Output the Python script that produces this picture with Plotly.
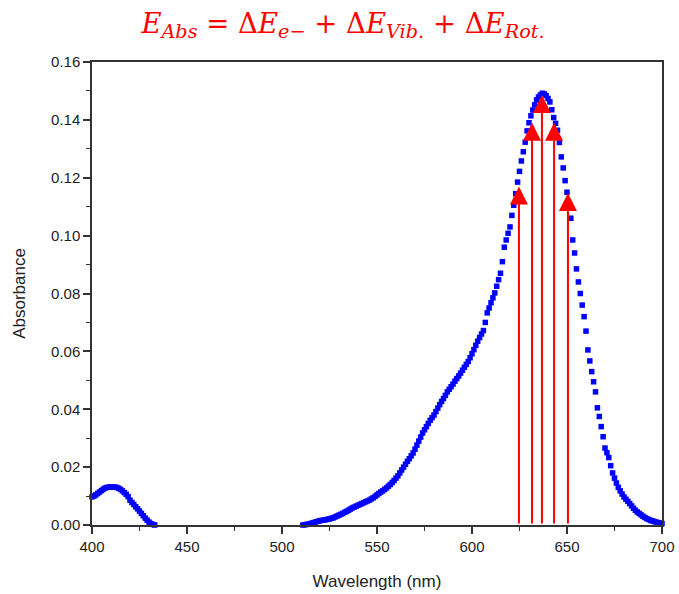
import plotly.graph_objects as go

# ---- data ----
wl_uv = list(range(400, 434))
abs_uv = [0.0097, 0.0100, 0.0104, 0.0109, 0.0114, 0.0119, 0.0124, 0.0128, 0.0130, 0.0131,
          0.0131, 0.0131, 0.0131, 0.0130, 0.0127, 0.0123, 0.0118, 0.0112, 0.0106, 0.0098,
          0.0086, 0.0078, 0.0071, 0.0063, 0.0056, 0.0048, 0.0040, 0.0032, 0.0024, 0.0017,
          0.0010, 0.0005, 0.0002, 0.0000]

wl_vis = list(range(511, 701))
abs_vis = [
    0.0000, 0.0001, 0.0002, 0.0003, 0.0005, 0.0007, 0.0009, 0.0011, 0.0013, 0.0015,  # 511-520
    0.0016, 0.0017, 0.0018, 0.0020, 0.0021, 0.0023, 0.0025, 0.0028, 0.0031, 0.0034,  # 521-530
    0.0037, 0.0040, 0.0044, 0.0047, 0.0051, 0.0055, 0.0059, 0.0062, 0.0065, 0.0068,  # 531-540
    0.0071, 0.0074, 0.0077, 0.0080, 0.0083, 0.0086, 0.0090, 0.0094, 0.0099, 0.0104,  # 541-550
    0.0109, 0.0114, 0.0118, 0.0123, 0.0128, 0.0134, 0.0140, 0.0147, 0.0154, 0.0162,  # 551-560
    0.0170, 0.0180, 0.0190, 0.0200, 0.0210, 0.0220, 0.0229, 0.0239, 0.0249, 0.0262,  # 561-570
    0.0276, 0.0290, 0.0304, 0.0318, 0.0329, 0.0340, 0.0351, 0.0362, 0.0371, 0.0380,  # 571-580
    0.0392, 0.0404, 0.0416, 0.0427, 0.0437, 0.0448, 0.0460, 0.0469, 0.0478, 0.0487,  # 581-590
    0.0497, 0.0506, 0.0515, 0.0525, 0.0535, 0.0545, 0.0555, 0.0565, 0.0578, 0.0592,  # 591-600
    0.0606, 0.0621, 0.0635, 0.0648, 0.0660, 0.0672, 0.0700, 0.0733, 0.0750, 0.0768,  # 601-610
    0.0785, 0.0802, 0.0825, 0.0848, 0.0870, 0.0910, 0.0960, 0.0985, 0.1008, 0.1030,  # 611-620
    0.1070, 0.1105, 0.1145, 0.1185, 0.1222, 0.1258, 0.1290, 0.1323, 0.1362, 0.1390,  # 621-630
    0.1414, 0.1434, 0.1452, 0.1469, 0.1479, 0.1486, 0.1492, 0.1490, 0.1484, 0.1474,  # 631-640
    0.1462, 0.1435, 0.1408, 0.1388, 0.1364, 0.1322, 0.1272, 0.1234, 0.1190, 0.1150,  # 641-650
    0.1105, 0.1060, 0.0985, 0.0940, 0.0885, 0.0840, 0.0800, 0.0760, 0.0720, 0.0670,  # 651-660
    0.0605, 0.0567, 0.0530, 0.0495, 0.0460, 0.0405, 0.0375, 0.0340, 0.0305, 0.0266,  # 661-670
    0.0250, 0.0233, 0.0205, 0.0180, 0.0162, 0.0145, 0.0130, 0.0118, 0.0107, 0.0097,  # 671-680
    0.0089, 0.0082, 0.0074, 0.0066, 0.0058, 0.0051, 0.0045, 0.0040, 0.0035, 0.0030,  # 681-690
    0.0026, 0.0022, 0.0019, 0.0016, 0.0014, 0.0012, 0.0010, 0.0008, 0.0007, 0.0005,  # 691-700
]

arrow_wl = [624.7, 631.6, 636.8, 643.2, 650.5]
arrow_tip = [0.1170, 0.1390, 0.1486, 0.1390, 0.1147]

x_ticks = [400, 450, 500, 550, 600, 650, 700]
y_ticks = [0.00, 0.02, 0.04, 0.06, 0.08, 0.10, 0.12, 0.14, 0.16]

title_html = ("<i>E</i><sub><i>Abs</i></sub> = Δ<i>E</i><sub><i>e−</i></sub> + "
              "Δ<i>E</i><sub><i>Vib.</i></sub> + Δ<i>E</i><sub><i>Rot.</i></sub>")

W, H = 679, 594

fig = go.Figure()
marker = dict(symbol="square", size=5.5, color="#0000ff", line=dict(width=0))
fig.add_trace(go.Scatter(x=wl_uv, y=abs_uv, mode="markers", marker=marker,
                         cliponaxis=False, showlegend=False))
fig.add_trace(go.Scatter(x=wl_vis, y=abs_vis, mode="markers", marker=marker,
                         cliponaxis=False, showlegend=False))

for xw, yt in zip(arrow_wl, arrow_tip):
    fig.add_annotation(x=xw, y=yt, ax=xw, ay=0, xref="x", yref="y", axref="x", ayref="y",
                       showarrow=True, arrowhead=2, arrowsize=1.8, arrowwidth=2,
                       arrowcolor="#ff0000", standoff=0, startstandoff=0, text="")

font_sans = "Liberation Sans, Arial, sans-serif"
axis_common = dict(showgrid=False, zeroline=False, showline=True, linecolor="#333333",
                   linewidth=1.5, mirror=True, ticks="outside", ticklen=7, tickwidth=1.5,
                   tickcolor="#333333", ticklabeloverflow="allow",
                   tickfont=dict(family=font_sans, size=15, color="#222222"))

fig.update_xaxes(range=[400, 700], tickvals=x_ticks, **axis_common,
                 minor=dict(dtick=25, ticklen=4, ticks="outside", tickcolor="#333333", tickwidth=1.2),
                 title=dict(text="Wavelength (nm)", standoff=21,
                            font=dict(family=font_sans, size=17, color="#222222")))
fig.update_yaxes(range=[0, 0.16], tickvals=y_ticks, tickformat=".2f", **axis_common,
                 minor=dict(dtick=0.01, ticklen=4, ticks="outside", tickcolor="#333333", tickwidth=1.2),
                 title=dict(text="Absorbance", standoff=21,
                            font=dict(family=font_sans, size=17, color="#222222")))

fig.update_layout(
    width=W, height=H,
    margin=dict(l=92, r=17, t=62, b=69, autoexpand=False),
    paper_bgcolor="white", plot_bgcolor="white",
    title=dict(text=title_html, x=343 / W, xanchor="center", xref="container",
               yref="container", y=1 - 23 / H, yanchor="middle",
               font=dict(family="DejaVu Serif, serif", size=27.5, color="#ff0000")),
)

# remove the default 8px page margin so the figure fills the window exactly
fig.write_html("out.html", config={"displayModeBar": False},
               post_script="document.body.style.margin='0';document.body.style.overflow='hidden';")
